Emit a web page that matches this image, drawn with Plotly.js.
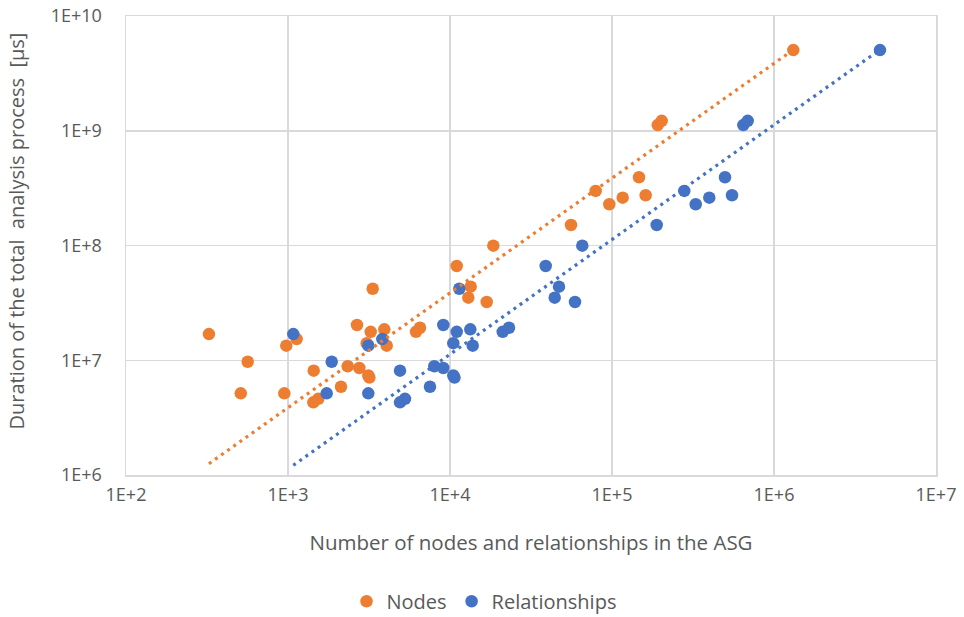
<!DOCTYPE html>
<html>
<head>
<meta charset="utf-8">
<script src="https://cdn.plot.ly/plotly-3.0.1.min.js"></script>
<style>
  html, body { margin: 0; padding: 0; background: #ffffff; }
  #chart { width: 964px; height: 617px; }
</style>
</head>
<body>
<div id="chart"></div>
<script>
// Total analysis duration (µs) per analysed project
const durationUs = [
  1.69e7, 1.53e7, 1.34e7, 9.71e6, 8.11e6, 5.15e6, 5.15e6, 4.30e6, 4.61e6,
  4.20e7, 2.03e7, 1.77e7, 1.86e7, 1.34e7, 1.41e7, 1.77e7, 1.92e7, 8.86e6,
  8.56e6, 7.36e6, 7.06e6, 5.88e6, 9.96e7, 6.63e7, 4.38e7, 3.51e7, 3.22e7,
  3.93e8, 2.99e8, 2.29e8, 2.61e8, 2.74e8, 1.51e8, 1.12e9, 1.22e9, 5.05e9
];

// Number of nodes in the ASG of each project
const nodeCounts = [
  325, 1131, 976, 564, 1441, 511, 949, 1433, 1538,
  3333, 2667, 3239, 3930, 4067, 3060, 6167, 6528, 2336,
  2755, 3131, 3180, 2124, 18510, 11000, 13420, 12970, 16850,
  146800, 79300, 96230, 116400, 161400, 55830, 191500, 202700, 1316000
];

// Number of relationships in the ASG of each project
const relationshipCounts = [
  1078, 3820, 3131, 1861, 4914, 1733, 3131, 4914, 5275,
  11413, 9092, 11000, 13347, 13810, 10481, 21150, 23130, 8000,
  9092, 10481, 10660, 7524, 65550, 38960, 47080, 44290, 59090,
  498400, 279400, 328600, 398700, 550600, 188800, 646500, 688200, 4511000
];

const seriesNames = ["Nodes", "Relationships"];
const seriesColors = ["#ED7D31", "#4472C4"];

const xTickVals = [1e2, 1e3, 1e4, 1e5, 1e6, 1e7];
const xTickText = ["1E+2", "1E+3", "1E+4", "1E+5", "1E+6", "1E+7"];
const yTickVals = [1e6, 1e7, 1e8, 1e9, 1e10];
const yTickText = ["1E+6", "1E+7", "1E+8", "1E+9", "1E+10"];

// Linear trendline through the origin (y = a·x), drawn over the data's x range
function linearTrend(xs, ys) {
  let sxy = 0, sxx = 0;
  for (let i = 0; i < xs.length; i++) { sxy += xs[i] * ys[i]; sxx += xs[i] * xs[i]; }
  const a = sxy / sxx;
  const lo = Math.log10(Math.min(...xs)), hi = Math.log10(Math.max(...xs));
  const px = [], py = [];
  const steps = 40;
  for (let i = 0; i <= steps; i++) {
    const xv = Math.pow(10, lo + (hi - lo) * i / steps);
    px.push(xv);
    py.push(a * xv);
  }
  return { x: px, y: py };
}

const xSets = [nodeCounts, relationshipCounts];
const traces = [];
xSets.forEach((xs, i) => {
  traces.push({
    x: xs, y: durationUs, type: "scatter", mode: "markers",
    name: seriesNames[i],
    marker: { color: seriesColors[i], size: 12.5, line: { width: 0 } }
  });
});
xSets.forEach((xs, i) => {
  const tr = linearTrend(xs, durationUs);
  traces.push({
    x: tr.x, y: tr.y, type: "scatter", mode: "lines",
    line: { color: seriesColors[i], width: 3.2, dash: "3px,4.5px" },
    showlegend: false, hoverinfo: "skip"
  });
});

const textColor = "#595959";
const gridColor = "#d9d9d9";

const layout = {
  width: 964, height: 617,
  paper_bgcolor: "#ffffff", plot_bgcolor: "#ffffff",
  font: { family: "Open Sans, sans-serif", size: 18, color: textColor },
  margin: { l: 126, r: 28, t: 16, b: 142, autoexpand: false },
  xaxis: {
    type: "log", range: [2, 7], automargin: false,
    tickvals: xTickVals, ticktext: xTickText,
    showgrid: true, gridcolor: gridColor, gridwidth: 1.5,
    showline: true, linecolor: gridColor, linewidth: 1.5, mirror: true,
    zeroline: false, ticks: "outside", ticklen: 3, tickcolor: "rgba(0,0,0,0)",
    tickfont: { size: 18, color: textColor },
    title: { text: "Number of nodes and relationships in the ASG", font: { size: 20.5, color: textColor }, standoff: 30 }
  },
  yaxis: {
    type: "log", range: [6, 10], automargin: false,
    tickvals: yTickVals, ticktext: yTickText,
    showgrid: true, gridcolor: gridColor, gridwidth: 1.5,
    showline: true, linecolor: gridColor, linewidth: 1.5, mirror: true,
    zeroline: false, ticks: "outside", ticklen: 19, tickcolor: "rgba(0,0,0,0)",
    tickfont: { size: 18, color: textColor }
  },
  annotations: [{
    text: "Duration of the total\u00A0 analysis process\u00A0 [µs]",
    xref: "paper", yref: "paper", x: 0, y: 0.5, xanchor: "center", yanchor: "middle",
    xshift: -110, yshift: 14, textangle: -90, showarrow: false,
    font: { size: 20, color: textColor }
  }],
  legend: {
    orientation: "h", x: 0.442, xanchor: "center", y: -0.275, yanchor: "middle",
    font: { size: 20, color: textColor }, itemwidth: 30
  },
  showlegend: true
};

Plotly.newPlot("chart", traces, layout, { displayModeBar: false, staticPlot: true });
</script>
</body>
</html>
